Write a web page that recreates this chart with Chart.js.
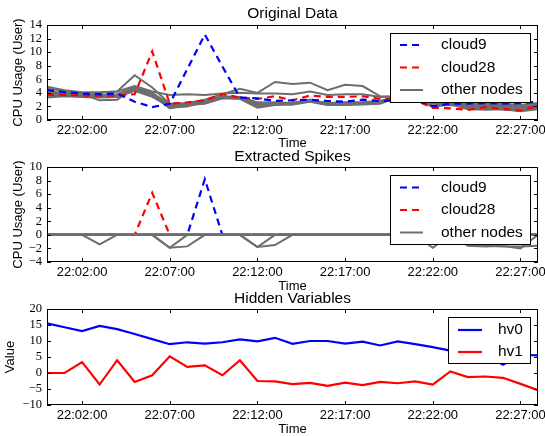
<!DOCTYPE html>
<html><head><meta charset="utf-8">
<script src="https://cdn.jsdelivr.net/npm/chart.js@4.4.0/dist/chart.umd.min.js"></script>
<style>
html,body{margin:0;padding:0;background:#fff;}
#wrap{position:relative;width:545px;height:436px;overflow:hidden;background:#fff;}
canvas{position:absolute;left:0;top:0;}
</style></head><body>
<div id="wrap">
<canvas id="c1" width="545" height="436"></canvas>
<canvas id="c2" width="545" height="436"></canvas>
<canvas id="c3" width="545" height="436"></canvas>
</div>
<script>
// ---- categories / tick labels ----
const times = ['22:00:00','22:01:00','22:02:00','22:03:00','22:04:00','22:05:00','22:06:00','22:07:00','22:08:00','22:09:00',
  '22:10:00','22:11:00','22:12:00','22:13:00','22:14:00','22:15:00','22:16:00','22:17:00','22:18:00','22:19:00',
  '22:20:00','22:21:00','22:22:00','22:23:00','22:24:00','22:25:00','22:26:00','22:27:00','22:28:00'];
const xTickLabels = ['22:02:00','22:07:00','22:12:00','22:17:00','22:22:00','22:27:00'];

// ---- Original Data ----
const cloud9 = [4.4,4.1,3.9,3.8,3.9,2.7,1.9,2.4,7.5,12.6,7.9,3.3,3.2,2.8,2.9,3.0,2.8,2.7,3.0,2.8,2.9,3.0,2.0,2.4,2.4,2.5,2.4,2.5,2.7];
const cloud28 = [3.7,3.7,3.6,3.6,3.6,3.8,10.1,2.4,2.6,2.9,3.8,3.3,3.1,3.5,2.9,3.6,3.4,3.4,3.5,3.1,3.1,2.9,1.8,1.7,1.5,1.9,1.6,1.4,2.1];
const nodeA = [4.9,4.4,4.1,4.0,4.2,6.6,4.8,2.4,2.5,3.0,3.8,4.6,4.0,5.6,5.3,5.5,4.4,5.2,5.0,3.5,3.4,3.2,2.9,2.6,2.4,2.3,2.2,2.0,2.3];
const nodeB = [4.6,4.3,4.0,4.1,4.2,5.0,4.2,3.7,3.8,3.7,3.9,4.0,3.9,3.9,3.8,4.2,3.7,3.8,3.8,3.4,3.5,3.3,3.0,2.8,2.6,2.5,2.4,2.2,2.5];
const nodeC = [4.2,4.0,3.8,2.9,3.0,4.8,3.9,2.1,2.2,2.4,3.2,3.4,2.5,2.6,2.5,3.0,2.4,2.4,2.4,2.5,3.3,3.2,2.8,2.3,2.2,2.1,2.0,1.9,2.0];
const nodeD = [3.8,3.7,3.6,3.5,3.6,4.6,3.8,1.7,2.3,2.5,3.3,3.3,2.3,2.4,2.3,2.8,2.2,2.2,2.3,2.4,3.4,3.1,2.6,2.3,2.0,1.9,1.8,1.6,1.8];
const nodeE = [3.5,3.6,3.5,3.4,3.5,4.4,3.6,1.8,2.0,2.8,3.4,3.2,2.0,2.3,2.4,2.8,2.3,2.3,2.4,2.6,3.3,3.0,2.1,2.2,1.8,1.7,1.6,1.4,1.7];
const nodeF = [3.3,3.5,3.4,3.3,3.4,4.3,3.4,2.0,2.1,2.5,3.2,3.1,1.8,2.2,2.3,2.7,2.2,2.3,2.4,2.5,3.4,3.1,2.4,2.3,2.1,2.0,1.8,1.5,1.7];
const nodeG = [3.7,3.8,3.7,3.6,3.6,4.5,3.7,2.2,2.4,2.6,3.4,3.3,2.0,2.3,2.5,2.9,2.4,2.5,2.5,2.7,3.5,3.2,2.7,2.5,2.3,2.2,2.1,1.9,2.1];
const nodeH = [4.0,3.9,3.8,3.7,3.8,4.9,4.0,2.3,2.4,2.7,3.5,3.4,2.6,2.5,2.4,2.9,2.5,2.6,2.6,2.8,3.5,3.3,1.9,2.4,1.6,1.5,1.6,1.3,1.6];

// ---- Extracted Spikes ----
const spikeCloud9  = [0,0,0,0,0,0,0,0,0,8.2,0,0,0,0,0,0,0,0,0,0,0,0,0,0,0,0,0,0,0];
const spikeCloud28 = [0,0,0,0,0,0,6.2,0,0,0,0,0,0,0,0,0,0,0,0,0,0,0,0,0,0,0,0,0,0];
const spikeA = [0,0,0,0,0,0,0,0,0,0,0,0,0,0,0,0,0,0,0,0,0,0,0,0,-1.6,-1.7,-1.6,-2.0,0];
const spikeB = [0,0,0,0,0,0,0,0,0,0,0,0,0,0,0,0,0,0,0,0,0,0,0,0,0,0,0,0,0];
const spikeC = [0,0,0,-1.4,0,0,0,0,0,0,0,0,0,0,0,0,0,0,0,0,0,0,0,0,0,0,0,0,0];
const spikeD = [0,0,0,0,0,0,0,-1.9,0,0,0,0,0,0,0,0,0,0,0,0,0,0,0,0,0,0,0,0,0];
const spikeE = [0,0,0,0,0,0,0,-1.9,-1.7,0,0,0,0,0,0,0,0,0,0,0,0,0,0,0,0,0,0,0,0];
const spikeF = [0,0,0,0,0,0,0,0,0,0,0,0,-1.8,0,0,0,0,0,0,0,0,0,0,0,0,0,0,0,0];
const spikeG = [0,0,0,0,0,0,0,0,0,0,0,0,-1.8,-1.5,0,0,0,0,0,0,0,0,0,0,0,0,0,0,0];
const spikeH = [0,0,0,0,0,0,0,0,0,0,0,0,0,0,0,0,0,0,0,0,0,0,-1.9,0,-1.5,-1.6,-1.7,-1.7,-1.6];

// ---- Hidden Variables ----
const hv0 = [15.5,14.3,13.1,14.7,13.7,12.2,10.6,9.0,9.6,9.2,9.6,10.5,9.9,11.0,9.1,10.0,10.0,9.2,9.8,8.6,9.9,9.0,8.1,7.0,6.5,5.9,2.6,5.7,5.5];
const hv1 = [0,0,3.4,-3.6,4.0,-2.8,-0.7,5.2,1.9,2.4,-0.7,4.0,-2.5,-2.6,-3.5,-3.1,-4.0,-3.0,-3.8,-2.8,-3.2,-2.6,-3.6,0.5,-1.3,-1.1,-1.5,-3.4,-5.4];

// ---- helpers ----
const BLUE = '#0000ff', RED = '#ff0000', GREY = '#6e6e6e';
const DASH = [7,5];
const pts = arr => arr.map((v, i) => ({x: i, y: v}));
const SANS = '"Liberation Sans", Arial, sans-serif';
const SERIF = '"Liberation Serif", "DejaVu Serif", serif';

function line(data, color, opts) {
  return Object.assign({data: pts(data), borderColor: color, backgroundColor: color, borderWidth: 2,
    pointRadius: 0, fill: false, tension: 0}, opts || {});
}

const decor = {
  id: 'decor',
  afterDraw(chart, args, o) {
    const ctx = chart.ctx, a = chart.chartArea;
    const xs = chart.scales.x, ys = chart.scales.y;
    ctx.save();
    ctx.strokeStyle = '#000'; ctx.lineWidth = 1;
    ctx.beginPath();
    xs.ticks.forEach(t => {
      const px = Math.round(xs.getPixelForValue(t.value)) + 0.5;
      ctx.moveTo(px, a.bottom); ctx.lineTo(px, a.bottom - 4);
      ctx.moveTo(px, a.top); ctx.lineTo(px, a.top + 4);
    });
    ys.ticks.forEach(t => {
      const py = Math.round(ys.getPixelForValue(t.value)) + 0.5;
      ctx.moveTo(a.left, py); ctx.lineTo(a.left + 4, py);
      ctx.moveTo(a.right, py); ctx.lineTo(a.right - 4, py);
    });
    ctx.stroke();
    ctx.strokeRect(Math.round(a.left) + 0.5, Math.round(a.top) + 0.5, Math.round(a.width) - 1, Math.round(a.height) - 1);

    ctx.fillStyle = '#000'; ctx.textAlign = 'center'; ctx.textBaseline = 'middle';
    const cx = (a.left + a.right) / 2;
    ctx.font = '15.5px ' + SANS;
    ctx.fillText(o.title, cx, o.titleY);
    ctx.font = '13px ' + SANS;
    ctx.fillText(o.xLabel, cx, o.xLabelY);
    ctx.save();
    ctx.translate(o.yLabelX, (a.top + a.bottom) / 2);
    ctx.rotate(-Math.PI / 2);
    ctx.fillText(o.yLabel, 0, 0);
    ctx.restore();

    // legend
    const L = o.legend;
    ctx.fillStyle = '#fff';
    ctx.fillRect(L.box[0], L.box[1], L.box[2], L.box[3]);
    ctx.strokeStyle = '#000'; ctx.lineWidth = 1;
    ctx.strokeRect(L.box[0] + 0.5, L.box[1] + 0.5, L.box[2], L.box[3]);
    const items = chart.data.datasets.filter(d => d.legendText)
      .sort((p, q) => p.legendOrder - q.legendOrder);
    items.forEach((d, i) => {
      const y = L.rows[i];
      ctx.strokeStyle = d.borderColor; ctx.lineWidth = d.borderWidth;
      ctx.setLineDash(d.borderDash || []);
      ctx.beginPath(); ctx.moveTo(L.lineX[0], y); ctx.lineTo(L.lineX[1], y); ctx.stroke();
      ctx.setLineDash([]);
      ctx.fillStyle = '#000'; ctx.textAlign = 'left'; ctx.font = '15.5px ' + SANS;
      ctx.fillText(d.legendText, L.textX, y);
    });
    ctx.restore();
  }
};

function makeChart(id, datasets, yMin, yMax, yStep, pad, deco) {
  return new Chart(document.getElementById(id), {
    type: 'line',
    data: {datasets},
    options: {
      responsive: false, animation: false, devicePixelRatio: 1,
      events: [],
      layout: {padding: pad},
      plugins: {legend: {display: false}, tooltip: {enabled: false}, title: {display: false}, decor: deco},
      scales: {
        x: {
          type: 'linear', min: 0, max: times.length - 1,
          afterBuildTicks: s => { s.ticks = xTickLabels.map(l => ({value: times.indexOf(l)})); },
          ticks: {callback: v => times[v], maxRotation: 0, autoSkip: false, padding: 3,
                  font: {family: SANS, size: 13}, color: '#000'},
          grid: {display: false, drawTicks: false}, border: {display: false},
          afterFit: s => { s.height = 22; s.paddingLeft = 0; s.paddingRight = 0; }
        },
        y: {
          min: yMin, max: yMax,
          afterBuildTicks: s => { const t = []; for (let v = yMin; v <= yMax + 1e-9; v += yStep) t.push({value: v}); s.ticks = t; },
          ticks: {callback: v => String(v).replace('-', '\u2212'), padding: 5, autoSkip: false,
                  font: {family: SERIF, size: 12.5}, color: '#000'},
          grid: {display: false, drawTicks: false}, border: {display: false},
          afterFit: s => { s.width = 47; }
        }
      }
    },
    plugins: [decor]
  });
}

// Chart 1: Original Data
makeChart('c1', [
  line(cloud9, BLUE, {borderDash: DASH, borderWidth: 2.2, legendText: 'cloud9', legendOrder: 0}),
  line(cloud28, RED, {borderDash: DASH, borderWidth: 2.2, legendText: 'cloud28', legendOrder: 1}),
  line(nodeA, GREY, {legendText: 'other nodes', legendOrder: 2}),
  line(nodeB, GREY), line(nodeC, GREY), line(nodeD, GREY),
  line(nodeE, GREY), line(nodeF, GREY), line(nodeG, GREY), line(nodeH, GREY)
], 0, 14, 2, {left: 0, right: 7, top: 25, bottom: 436 - 120 - 22}, {
  title: 'Original Data', titleY: 14, xLabel: 'Time', xLabelY: 143, yLabel: 'CPU Usage (User)', yLabelX: 18,
  legend: {box: [390, 33, 140, 69], rows: [45, 67.5, 90], lineX: [400, 423], textX: 441}
});

// Chart 2: Extracted Spikes (grey drawn on top)
makeChart('c2', [
  line(spikeA, GREY, {legendText: 'other nodes', legendOrder: 2}),
  line(spikeB, GREY), line(spikeC, GREY), line(spikeD, GREY),
  line(spikeE, GREY), line(spikeF, GREY), line(spikeG, GREY), line(spikeH, GREY),
  line(spikeCloud9, BLUE, {borderDash: DASH, borderWidth: 2.2, legendText: 'cloud9', legendOrder: 0}),
  line(spikeCloud28, RED, {borderDash: DASH, borderWidth: 2.2, legendText: 'cloud28', legendOrder: 1})
], -4, 10, 2, {left: 0, right: 7, top: 167, bottom: 436 - 262 - 22}, {
  title: 'Extracted Spikes', titleY: 157, xLabel: 'Time', xLabelY: 286, yLabel: 'CPU Usage (User)', yLabelX: 18,
  legend: {box: [390, 175, 140, 69], rows: [187.5, 210, 232.5], lineX: [400, 423], textX: 441}
});

// Chart 3: Hidden Variables
makeChart('c3', [
  line(hv0, BLUE, {legendText: 'hv0', legendOrder: 0, borderWidth: 2.2}),
  line(hv1, RED, {legendText: 'hv1', legendOrder: 1, borderWidth: 2.2})
], -10, 20, 5, {left: 0, right: 7, top: 309, bottom: 436 - 405 - 22}, {
  title: 'Hidden Variables', titleY: 299, xLabel: 'Time', xLabelY: 429, yLabel: 'Value', yLabelX: 10,
  legend: {box: [448, 317, 82, 46], rows: [330, 352], lineX: [458, 482], textX: 498}
});
</script>
</body></html>
